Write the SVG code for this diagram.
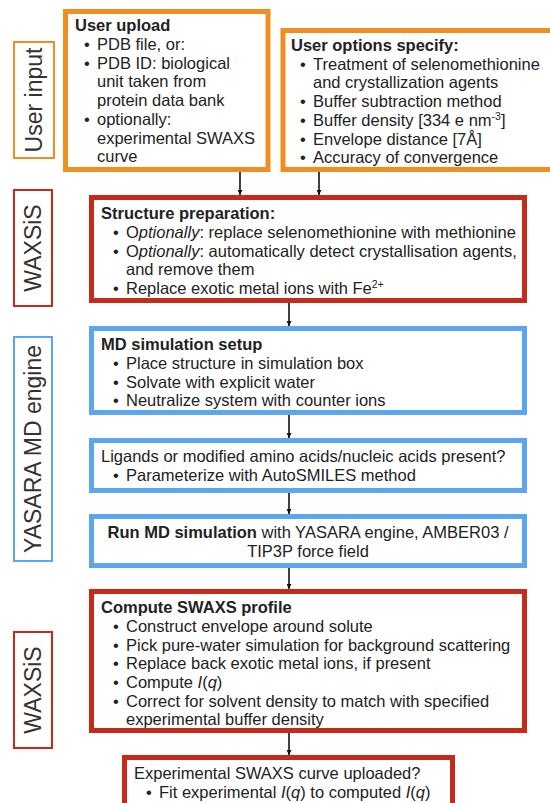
<svg xmlns="http://www.w3.org/2000/svg" width="550" height="803" viewBox="0 0 550 803">
<defs>
<marker id="ah" viewBox="0 0 10 10" refX="10" refY="5" markerWidth="5" markerHeight="5" orient="auto" markerUnits="userSpaceOnUse">
<path d="M0,0 L10,5 L0,10 Z" fill="#111"/>
</marker>
<style>
.t{font-family:"Liberation Sans",Arial,Helvetica,sans-serif;font-size:16.5px;fill:#222}
.b{font-weight:bold}
.i{font-style:italic}
.lab{font-family:"Liberation Sans",Arial,Helvetica,sans-serif;font-size:23px;fill:#333;text-anchor:middle}
.or{fill:#fff;stroke:#EE8F22;stroke-width:5}
.rd{fill:#fff;stroke:#C42B1B;stroke-width:5}
.bl{fill:#fff;stroke:#5BA6EE;stroke-width:5}
.orl{fill:#fff;stroke:#EE8F22;stroke-width:2}
.rdl{fill:#fff;stroke:#C42B1B;stroke-width:2}
.bll{fill:#fff;stroke:#5BA6EE;stroke-width:2}
.c{stroke:#111;stroke-width:1.6;fill:none}
</style>
</defs>
<rect width="550" height="803" fill="#fff"/>

<g id="label-user-input">
<rect class="orl" x="14" y="42" width="40" height="116"/>
<text class="lab" transform="translate(42,100) rotate(-90)">User input</text>
</g>
<g id="label-waxsis-1">
<rect class="rdl" x="14" y="190" width="38" height="116"/>
<text class="lab" transform="translate(41,248) rotate(-90)">WAXSiS</text>
</g>
<g id="label-yasara">
<rect class="bll" x="14" y="337" width="38" height="224"/>
<text class="lab" transform="translate(41,449) rotate(-90)">YASARA MD engine</text>
</g>
<g id="label-waxsis-2">
<rect class="rdl" x="14" y="632" width="38" height="116"/>
<text class="lab" transform="translate(41,690) rotate(-90)">WAXSiS</text>
</g>

<g id="user-upload">
<rect class="or" x="65.5" y="11.5" width="202.5" height="158"/>
<text class="t b" x="75" y="31">User upload</text>
<text class="t" x="84" y="50">•</text><text class="t" x="97" y="50">PDB file, or:</text>
<text class="t" x="84" y="69">•</text><text class="t" x="97" y="69">PDB ID: biological</text>
<text class="t" x="97" y="87">unit taken from</text>
<text class="t" x="97" y="106">protein data bank</text>
<text class="t" x="84" y="125">•</text><text class="t" x="97" y="125">optionally:</text>
<text class="t" x="97" y="144">experimental SWAXS</text>
<text class="t" x="97" y="162">curve</text>
</g>

<g id="user-options">
<rect class="or" x="283" y="30.5" width="270" height="139"/>
<text class="t b" x="291" y="51">User options specify:</text>
<text class="t" x="300" y="70">•</text><text class="t" x="313" y="70">Treatment of selenomethionine</text>
<text class="t" x="313" y="88">and crystallization agents</text>
<text class="t" x="300" y="107">•</text><text class="t" x="313" y="107">Buffer subtraction method</text>
<text class="t" x="300" y="126">•</text><text class="t" x="313" y="126">Buffer density [334 e nm<tspan font-size="10.5" dy="-6">-3</tspan><tspan dy="6">]</tspan></text>
<text class="t" x="300" y="145">•</text><text class="t" x="313" y="145">Envelope distance [7Å]</text>
<text class="t" x="300" y="163">•</text><text class="t" x="313" y="163">Accuracy of convergence</text>
</g>

<g id="structure-preparation">
<rect class="rd" x="91.5" y="197.5" width="433" height="103"/>
<text class="t b" x="101" y="219">Structure preparation:</text>
<text class="t" x="113" y="238">•</text><text class="t" x="126" y="238">O<tspan class="i">ptionally</tspan>: replace selenomethionine with methionine</text>
<text class="t" x="113" y="257">•</text><text class="t" x="126" y="257">O<tspan class="i">ptionally</tspan>: automatically detect crystallisation agents,</text>
<text class="t" x="126" y="275">and remove them</text>
<text class="t" x="113" y="294">•</text><text class="t" x="126" y="294">Replace exotic metal ions with Fe<tspan font-size="10.5" dy="-6">2+</tspan></text>
</g>

<g id="md-setup">
<rect class="bl" x="91.5" y="328.5" width="433" height="84"/>
<text class="t b" x="101" y="350">MD simulation setup</text>
<text class="t" x="113" y="369">•</text><text class="t" x="126" y="369">Place structure in simulation box</text>
<text class="t" x="113" y="388">•</text><text class="t" x="126" y="388">Solvate with explicit water</text>
<text class="t" x="113" y="406">•</text><text class="t" x="126" y="406">Neutralize system with counter ions</text>
</g>

<g id="ligands">
<rect class="bl" x="91.5" y="440.5" width="433" height="50"/>
<text class="t" x="101" y="462">Ligands or modified amino acids/nucleic acids present?</text>
<text class="t" x="113" y="481">•</text><text class="t" x="126" y="481">Parameterize with AutoSMILES method</text>
</g>

<g id="run-md">
<rect class="bl" x="91.5" y="516.5" width="433" height="49"/>
<text class="t" x="308" y="538" text-anchor="middle"><tspan class="b">Run MD simulation</tspan> with YASARA engine, AMBER03 /</text>
<text class="t" x="308" y="557" text-anchor="middle">TIP3P force field</text>
</g>

<g id="compute-swaxs">
<rect class="rd" x="91.5" y="591.5" width="433" height="139"/>
<text class="t b" x="101" y="613">Compute SWAXS profile</text>
<text class="t" x="113" y="632">•</text><text class="t" x="126" y="632">Construct envelope around solute</text>
<text class="t" x="113" y="651">•</text><text class="t" x="126" y="651">Pick pure-water simulation for background scattering</text>
<text class="t" x="113" y="669">•</text><text class="t" x="126" y="669">Replace back exotic metal ions, if present</text>
<text class="t" x="113" y="688">•</text><text class="t" x="126" y="688">Compute <tspan class="i">I</tspan>(<tspan class="i">q</tspan>)</text>
<text class="t" x="113" y="707">•</text><text class="t" x="126" y="707">Correct for solvent density to match with specified</text>
<text class="t" x="126" y="725">experimental buffer density</text>
</g>

<g id="experimental-fit">
<rect class="rd" x="124.5" y="757.5" width="328" height="60"/>
<text class="t" x="134" y="779">Experimental SWAXS curve uploaded?</text>
<text class="t" x="146" y="798">•</text><text class="t" x="159" y="798">Fit experimental <tspan class="i">I</tspan>(<tspan class="i">q</tspan>) to computed <tspan class="i">I</tspan>(<tspan class="i">q</tspan>)</text>
</g>

<g id="connectors">
<line class="c" x1="240" y1="172" x2="240" y2="195" marker-end="url(#ah)"/>
<line class="c" x1="319" y1="172" x2="319" y2="195" marker-end="url(#ah)"/>
<line class="c" x1="289" y1="303" x2="289" y2="326" marker-end="url(#ah)"/>
<line class="c" x1="289" y1="415" x2="289" y2="438" marker-end="url(#ah)"/>
<line class="c" x1="289" y1="493" x2="289" y2="514" marker-end="url(#ah)"/>
<line class="c" x1="289" y1="568" x2="289" y2="589" marker-end="url(#ah)"/>
<line class="c" x1="289" y1="733" x2="289" y2="755" marker-end="url(#ah)"/>
</g>
</svg>
